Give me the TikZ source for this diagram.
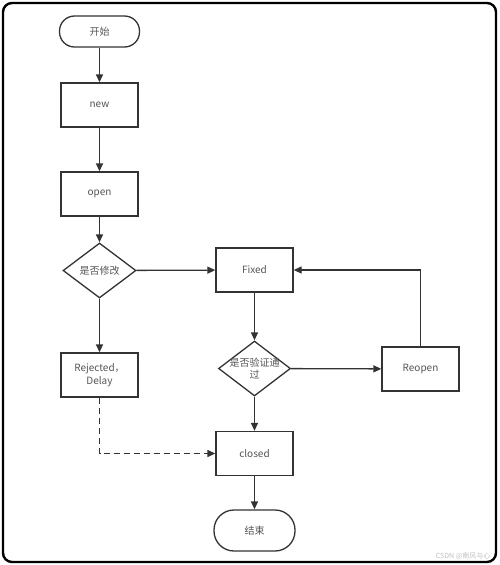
\documentclass[tikz,border=0pt]{standalone}
\usepackage{fontspec}
\setmainfont{Noto Sans CJK SC}
\usetikzlibrary{shapes.geometric,arrows.meta}
\definecolor{ln}{HTML}{333333}
\definecolor{tx}{HTML}{555555}
\tikzset{
  lbl/.style={text=tx, font=\fontsize{10}{12.5}\selectfont, align=center},
  base/.style={draw=ln, line width=1.3pt, lbl, inner sep=0pt},
  box/.style={base, rectangle, minimum width=77pt, minimum height=44pt},
  pill/.style={base, rectangle, rounded corners=15pt, minimum width=80pt, minimum height=31pt},
  endpill/.style={base, rectangle, rounded corners=20pt, minimum width=81pt, minimum height=41pt},
  dia/.style={base, diamond, minimum width=73pt, minimum height=55pt, aspect=1.33},
  arr/.style={draw=ln, line width=1.3pt, -{Triangle[length=8pt,width=7pt]}},
}
\begin{document}
\begin{tikzpicture}[x=1pt,y=-1pt]
\useasboundingbox (0,0) rectangle (500,565);
\draw[line width=2.4pt, rounded corners=9pt] (3,3) rectangle (496,562);
\node[pill] (start) at (99.5,31.5) {开始};
\node[box] (new) at (99.5,105) {new};
\node[box] (open) at (99.5,194) {open};
\node[dia] (q1) at (99.5,270.5) {};
\node[lbl] at (q1) {是否修改};
\node[box] (rej) at (99.5,375) {Rejected，\\Delay};
\node[box] (fixed) at (254.5,270) {Fixed};
\node[base, diamond, minimum width=72pt, minimum height=55pt, aspect=1.31] (q2) at (254.5,368.5) {};
\node[lbl] at (q2) {是否验证通\\过};
\node[box] (reopen) at (420.5,369) {Reopen};
\node[box] (closed) at (254.5,453.5) {closed};
\node[endpill] (end) at (254.5,530.5) {结束};
\coordinate (c1) at (99.5,453.5);
\coordinate (c2) at (420.5,270);
\draw[arr] (start) -- (new);
\draw[arr] (new) -- (open);
\draw[arr] (open) -- (q1);
\draw[arr] (q1) -- (rej);
\draw[arr] (q1) -- (fixed);
\draw[arr] (fixed) -- (q2);
\draw[arr] (q2) -- (reopen);
\draw[arr] (q2) -- (closed);
\draw[arr] (reopen.north) -- (c2) -- (fixed.east);
\draw[arr, dash pattern=on 6pt off 4pt] (rej.south) -- (c1) -- (closed.west);
\draw[arr] (closed) -- (end);
\node[text=black!25, font=\fontsize{7}{8}\selectfont, anchor=east] (wm) at (494,556) {CSDN @南风与心};
\end{tikzpicture}
\end{document}
